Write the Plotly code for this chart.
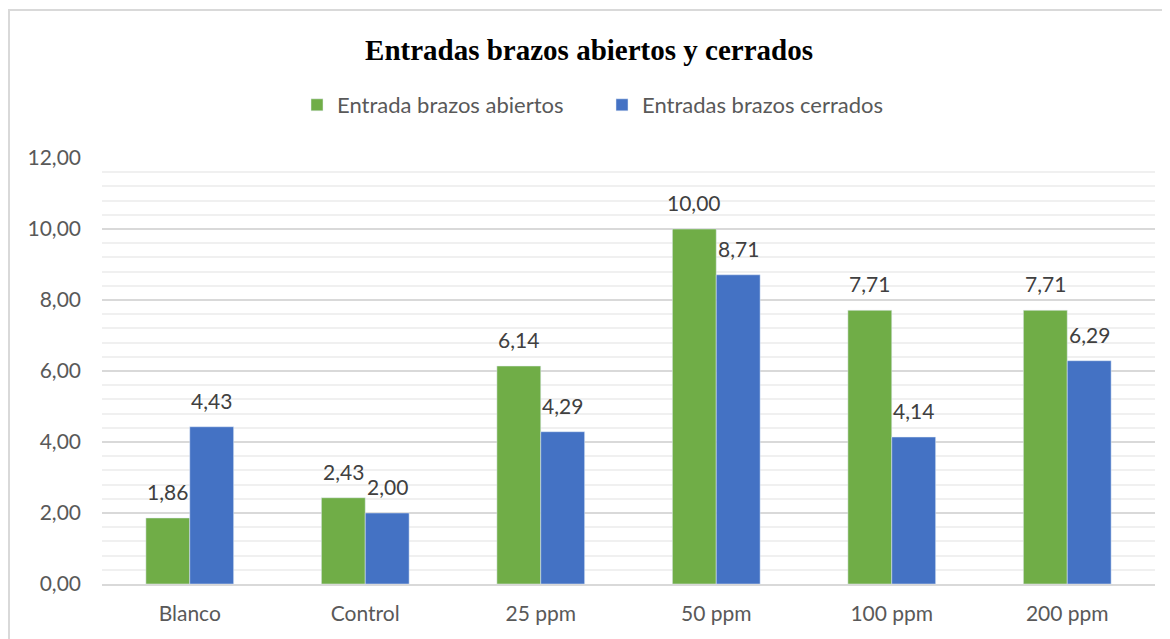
import plotly.graph_objects as go

categories = ["Blanco", "Control", "25 ppm", "50 ppm", "100 ppm", "200 ppm"]
abiertos = [1.86, 2.43, 6.14, 10.00, 7.71, 7.71]
cerrados = [4.43, 2.00, 4.29, 8.71, 4.14, 6.29]
series_names = ["Entrada brazos abiertos", "Entradas brazos cerrados"]
tick_vals = [0, 2, 4, 6, 8, 10, 12]

font_family = "Lato, 'Open Sans', sans-serif"
text_color = "#404040"
FS = 21

fig = go.Figure()
fig.add_trace(go.Bar(x=categories, y=abiertos, name=series_names[0], marker_color="#70AD47"))
fig.add_trace(go.Bar(x=categories, y=cerrados, name=series_names[1], marker_color="#4472C4"))

annotations = []
for vals, shift in ((abiertos, -22), (cerrados, 22)):
    for c, v in zip(categories, vals):
        annotations.append(dict(
            x=c, y=v, xref="x", yref="y", xshift=shift, yshift=12,
            text=f"{v:.2f}".replace(".", ","), showarrow=False,
            xanchor="center", yanchor="bottom",
            font=dict(size=FS, color=text_color, family=font_family),
        ))

# page has an 8px body margin: figure placed at (8, 8)
OFF = 8
W, H = 1170 - OFF, 639 - OFF
L, R, T, B = 102 - OFF, 15, 158 - OFF, 55
pw, ph = W - L - R, H - T - B

def px_x(p):
    return (p - OFF - L) / pw

def px_y(p):
    return (H - B - (p - OFF)) / ph

fig.update_layout(
    width=W, height=H,
    margin=dict(l=L, r=R, t=T, b=B),
    paper_bgcolor="white", plot_bgcolor="white",
    barmode="group", bargap=0.5, bargroupgap=0,
    separators=",.",
    title=dict(
        text="<b>Entradas brazos abiertos y cerrados</b>",
        x=0.5, xanchor="center", y=1 - (50 - OFF) / H, yanchor="middle",
        font=dict(family="'Liberation Serif', 'Times New Roman', serif", size=29, color="black"),
    ),
    legend=dict(
        orientation="h", x=px_x(297), xanchor="left",
        y=px_y(105), yanchor="middle",
        font=dict(family=font_family, size=22, color="#595959"),
        itemwidth=30, tracegroupgap=0, entrywidth=260, entrywidthmode="pixels",
    ),
    annotations=annotations,
    xaxis=dict(
        showgrid=False, showline=True, linecolor="#d9d9d9", linewidth=1.5,
        ticks="", tickfont=dict(family=font_family, size=FS, color="#595959"),
        ticklabelstandoff=10,
    ),
    yaxis=dict(
        range=[0, 12], tickvals=tick_vals, tickformat=".2f",
        showgrid=True, gridcolor="#d9d9d9", gridwidth=1.5,
        zeroline=False, showline=False, ticks="",
        tickfont=dict(family=font_family, size=FS, color="#595959"),
        ticklabelstandoff=20,
        minor=dict(dtick=0.4, tick0=0, showgrid=True, gridcolor="#f0f0f0", gridwidth=1.5),
    ),
    showlegend=True,
    shapes=[
        dict(type="line", xref="paper", yref="paper",
             x0=px_x(9), x1=px_x(9), y0=px_y(10), y1=px_y(660),
             line=dict(color="#d9d9d9", width=2)),
        dict(type="line", xref="paper", yref="paper",
             x0=px_x(8), x1=px_x(1200), y0=px_y(10), y1=px_y(10),
             line=dict(color="#d9d9d9", width=2)),
    ],
)

fig.write_html("out.html")
